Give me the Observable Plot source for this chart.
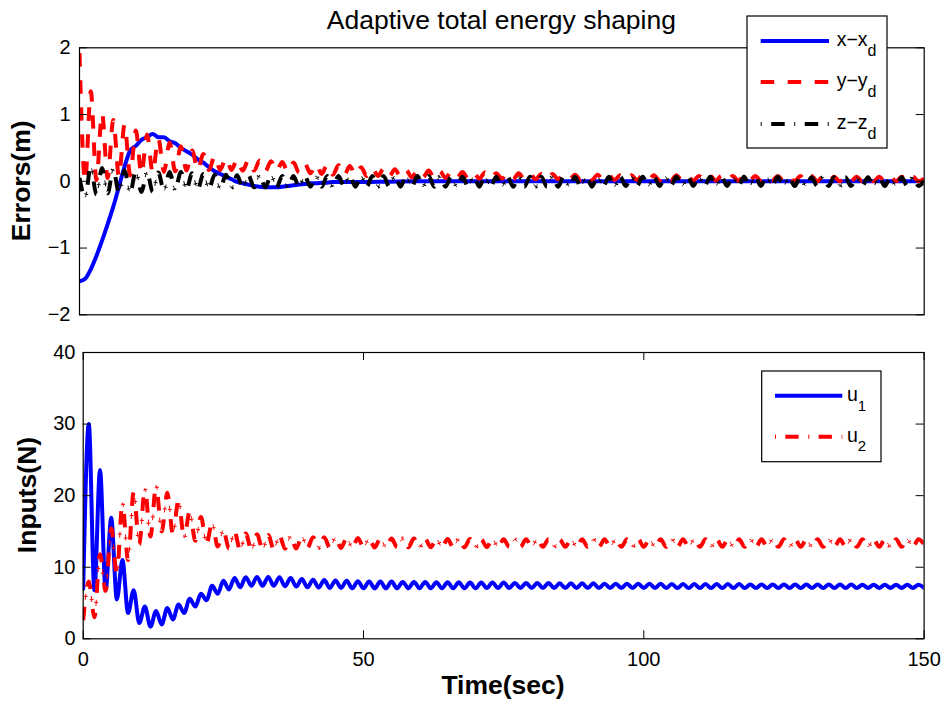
<!DOCTYPE html>
<html>
<head>
<meta charset="utf-8">
<script src="https://cdn.jsdelivr.net/npm/d3@7"></script>
<script src="https://cdn.jsdelivr.net/npm/@observablehq/plot@0.6"></script>
<style>
html,body{margin:0;padding:0;background:#fff;}
#chart{position:relative;width:946px;height:706px;background:#fff;overflow:hidden;font-family:"Liberation Sans",Arial,Helvetica,sans-serif;}
#chart > div{position:absolute;left:0;}
#overlay{position:absolute;left:0;top:0;}
</style>
</head>
<body>
<div id="chart"></div>
<script>
// ---------- axis ticks / labels ----------
const timeTicks = [0, 50, 100, 150];
const errorTicks = [-2, -1, 0, 1, 2];
const inputTicks = [0, 10, 20, 30, 40];
const tickText = d => (d < 0 ? "\u2212" + Math.abs(d) : String(d));

// ---------- x - x_d (smooth) ----------
const xErrTime = [0,1,2,3,4,5,6,7,8,9,10,11,12,13,14,15,16,17,18,19,20,21,22,23,24,25,26,27,28,29,30,
  31,32,33,34,35,36,37,38,39,40,41,42,43,44,45,50,55,60,70,80,90,100,110,120,130,140,150];
const xErr = [-1.50,-1.46,-1.32,-1.12,-0.89,-0.64,-0.38,-0.08,0.22,0.46,
  0.53,0.62,0.66,0.71,0.66,0.66,0.60,0.57,0.50,0.45,
  0.40,0.33,0.28,0.21,0.15,0.11,0.07,0.03,-0.01,-0.03,
  -0.05,-0.07,-0.08,-0.09,-0.09,-0.09,-0.08,-0.07,-0.06,-0.05,
  -0.04,-0.03,-0.03,-0.02,-0.02,-0.01,
  -0.01,-0.005,0,0,0,0,0,0,0,0,0,0];

// ---------- oscillating signals, read once per second (t = 0 ... 150 s) ----------
const sampleTime = d3.range(0, 151);
const yErr = [
  1.92,0.00,1.35,0.02,1.02,0.05,0.92,0.07,0.85,0.09,
  0.76,0.11,0.70,0.13,0.64,0.14,0.58,0.15,0.52,0.16,
  0.46,0.17,0.41,0.17,0.38,0.17,0.35,0.17,0.33,0.16,
  0.32,0.16,0.31,0.15,0.30,0.15,0.29,0.14,0.28,0.13,
  0.27,0.12,0.26,0.11,0.25,0.10,0.24,0.09,0.23,0.09,
  0.21,0.08,0.20,0.08,0.19,0.07,0.18,0.07,0.17,0.06,
  0.16,0.06,0.16,0.05,0.15,0.05,0.14,0.05,0.14,0.04,
  0.13,0.04,0.13,0.04,0.12,0.04,0.12,0.03,0.12,0.03,
  0.11,0.03,0.11,0.03,0.11,0.03,0.10,0.03,0.10,0.02,
  0.10,0.02,0.10,0.02,0.09,0.02,0.09,0.02,0.09,0.02,
  0.09,0.02,0.09,0.01,0.09,0.01,0.09,0.01,0.08,0.01,
  0.08,0.01,0.08,0.01,0.08,0.01,0.08,0.01,0.08,0.01,
  0.08,0.01,0.08,0.01,0.08,0.01,0.08,0.00,0.08,0.00,
  0.08,0.00,0.07,0.00,0.07,0.00,0.07,0.00,0.07,0.00,
  0.07,0.00,0.07,0.00,0.07,0.00,0.07,0.00,0.07,0.00,
  0.04];
const zErr = [
  0.05,-0.24,0.22,-0.20,0.20,-0.18,0.18,-0.17,0.16,-0.17,
  0.15,-0.16,0.14,-0.16,0.13,-0.14,0.14,-0.13,0.14,-0.12,
  0.12,-0.12,0.11,-0.11,0.10,-0.11,0.10,-0.10,0.09,-0.10,
  0.09,-0.09,0.09,-0.09,0.09,-0.09,0.08,-0.09,0.08,-0.09,
  0.08,-0.08,0.08,-0.08,0.08,-0.08,0.08,-0.08,0.08,-0.08,
  0.08,-0.08,0.08,-0.08,0.08,-0.08,0.08,-0.08,0.08,-0.08,
  0.08,-0.08,0.08,-0.08,0.07,-0.08,0.07,-0.08,0.07,-0.08,
  0.07,-0.08,0.07,-0.08,0.07,-0.08,0.07,-0.08,0.07,-0.08,
  0.07,-0.08,0.07,-0.08,0.07,-0.08,0.07,-0.08,0.07,-0.08,
  0.07,-0.08,0.07,-0.08,0.07,-0.08,0.07,-0.07,0.07,-0.07,
  0.07,-0.07,0.07,-0.07,0.07,-0.07,0.07,-0.07,0.07,-0.07,
  0.07,-0.07,0.07,-0.07,0.07,-0.07,0.07,-0.07,0.07,-0.07,
  0.07,-0.07,0.07,-0.07,0.07,-0.07,0.06,-0.07,0.06,-0.07,
  0.06,-0.07,0.06,-0.07,0.06,-0.07,0.06,-0.07,0.06,-0.07,
  0.06,-0.07,0.06,-0.07,0.06,-0.07,0.06,-0.07,0.06,-0.07,
  0.00];
const u1 = [
  7.0,30.0,6.8,23.6,6.8,16.9,5.5,11.0,3.6,6.8,
  2.2,4.5,1.7,3.9,2.0,4.3,2.7,4.8,3.6,5.6,
  4.5,6.3,5.4,7.4,6.3,8.1,6.9,8.5,7.2,8.6,
  7.4,8.65,7.4,8.65,7.4,8.6,7.35,8.5,7.3,8.35,
  7.2,8.25,7.15,8.2,7.1,8.15,7.1,8.1,7.05,8.05,
  7.05,8.0,7.05,8.0,7.05,8.0,7.05,7.95,7.05,7.95,
  7.05,7.95,7.05,7.9,7.05,7.9,7.05,7.9,7.05,7.85,
  7.05,7.85,7.1,7.85,7.1,7.85,7.1,7.8,7.1,7.8,
  7.1,7.8,7.1,7.8,7.1,7.75,7.1,7.75,7.1,7.75,
  7.1,7.75,7.1,7.7,7.1,7.7,7.1,7.7,7.1,7.7,
  7.1,7.7,7.1,7.7,7.1,7.65,7.1,7.65,7.1,7.65,
  7.1,7.65,7.1,7.65,7.1,7.65,7.1,7.65,7.1,7.6,
  7.1,7.6,7.1,7.6,7.1,7.6,7.1,7.6,7.1,7.6,
  7.1,7.6,7.1,7.6,7.1,7.6,7.1,7.6,7.1,7.55,
  7.1,7.55,7.1,7.55,7.1,7.55,7.1,7.55,7.1,7.55,
  7.1];
const u2 = [
  2.6,8.0,3.0,11.8,6.7,15.4,9.0,19.0,11.0,20.5,
  13.2,21.0,14.3,21.4,15.0,20.4,14.6,19.4,14.1,17.8,
  13.7,17.0,13.3,16.2,12.9,15.2,12.6,14.9,12.4,14.7,
  12.4,14.6,12.5,14.5,12.5,14.4,12.6,14.3,12.6,14.3,
  12.7,14.2,12.7,14.2,12.7,14.1,12.7,14.1,12.75,14.1,
  12.75,14.0,12.75,14.0,12.8,14.0,12.8,14.0,12.8,14.0,
  12.8,13.95,12.8,13.95,12.8,13.95,12.8,13.95,12.8,13.95,
  12.8,13.9,12.8,13.9,12.85,13.9,12.85,13.9,12.85,13.9,
  12.85,13.9,12.85,13.9,12.85,13.9,12.85,13.9,12.85,13.9,
  12.85,13.9,12.85,13.9,12.85,13.9,12.85,13.9,12.85,13.9,
  12.85,13.9,12.85,13.9,12.85,13.9,12.85,13.9,12.85,13.9,
  12.85,13.9,12.85,13.9,12.85,13.9,12.85,13.9,12.85,13.9,
  12.85,13.9,12.85,13.9,12.85,13.9,12.85,13.9,12.85,13.9,
  12.85,13.9,12.85,13.9,12.85,13.9,12.85,13.9,12.85,13.9,
  12.85,13.9,12.85,13.9,12.85,13.9,12.85,13.9,12.85,13.9,
  13.2];

// ---------- build ----------
(function () {
const rows = (ts, vs) => ts.map((t, i) => ({t, v: vs[i]}));
const FONT = "'Liberation Sans', Arial, Helvetica, sans-serif";
const W = 946;
const svgStyle = {fontFamily: FONT, fontSize: "20px", color: "#000", background: "transparent", overflow: "visible"};
const BLUE = "#0000ff", RED = "#ff0000", BLACK = "#000000";

const topM = {h: 330, l: 79, r: 22.3, t: 47.3, b: 15.7};
const topIW = W - topM.l - topM.r;

const topPlot = Plot.plot({
  width: W, height: topM.h,
  marginLeft: topM.l, marginRight: topM.r, marginTop: topM.t, marginBottom: topM.b,
  style: svgStyle,
  x: {domain: [0, 150], axis: null},
  y: {domain: [-2, 2]},
  marks: [
    Plot.line(rows(xErrTime, xErr), {x: "t", y: "v", curve: "monotone-x", stroke: BLUE, strokeWidth: 4, clip: true}),
    Plot.line(rows(sampleTime, yErr), {x: "t", y: "v", curve: "monotone-x", stroke: RED, strokeWidth: 4,
      strokeDasharray: "13.5,13.5", strokeLinecap: "butt", clip: true}),
    Plot.line(rows(sampleTime, zErr), {x: "t", y: "v", curve: "monotone-x", stroke: BLACK, strokeWidth: 4,
      strokeDasharray: "13.5,10,1,9", strokeLinecap: "butt", clip: true}),
    Plot.line(rows(sampleTime, zErr), {x: "t", y: "v", curve: "monotone-x", stroke: BLACK, strokeWidth: 1,
      strokeDasharray: "0,20.5,6,7", strokeLinecap: "butt", clip: true}),
    Plot.frame({stroke: BLACK, strokeWidth: 1.2}),
    Plot.tickY(errorTicks, {y: d => d, stroke: BLACK, insetRight: topIW - 8}),
    Plot.tickY(errorTicks, {y: d => d, stroke: BLACK, insetLeft: topIW - 8}),
    Plot.axisY({ticks: errorTicks, tickSize: 0, tickPadding: 9, tickFormat: tickText, fontSize: 20, label: null})
  ]
});

const botM = {h: 376, l: 82.7, r: 22.4, t: 22, b: 67.7};
const botIW = W - botM.l - botM.r;
const botIH = botM.h - botM.t - botM.b;

const botPlot = Plot.plot({
  width: W, height: botM.h,
  marginLeft: botM.l, marginRight: botM.r, marginTop: botM.t, marginBottom: botM.b,
  style: svgStyle,
  x: {domain: [0, 150]},
  y: {domain: [0, 40]},
  marks: [
    Plot.line(rows(sampleTime, u1), {x: "t", y: "v", curve: "monotone-x", stroke: BLUE, strokeWidth: 4, clip: true}),
    Plot.line(rows(sampleTime, u2), {x: "t", y: "v", curve: "monotone-x", stroke: RED, strokeWidth: 4,
      strokeDasharray: "13.5,10,1,9", strokeLinecap: "butt", clip: true}),
    Plot.line(rows(sampleTime, u2), {x: "t", y: "v", curve: "monotone-x", stroke: RED, strokeWidth: 1,
      strokeDasharray: "0,20.5,6,7", strokeLinecap: "butt", clip: true}),
    Plot.frame({stroke: BLACK, strokeWidth: 1.2}),
    Plot.tickY(inputTicks, {y: d => d, stroke: BLACK, insetRight: botIW - 8}),
    Plot.tickY(inputTicks, {y: d => d, stroke: BLACK, insetLeft: botIW - 8}),
    Plot.tickX(timeTicks, {x: d => d, stroke: BLACK, insetBottom: botIH - 8}),
    Plot.tickX(timeTicks, {x: d => d, stroke: BLACK, insetTop: botIH - 8}),
    Plot.axisY({ticks: inputTicks, tickSize: 0, tickPadding: 7.7, tickFormat: tickText, fontSize: 20, label: null}),
    Plot.axisX({ticks: timeTicks, tickSize: 0, tickPadding: 13, tickFormat: tickText, fontSize: 20, label: null})
  ]
});

const chart = document.getElementById("chart");
const d1 = document.createElement("div"); d1.style.top = "0px"; d1.appendChild(topPlot); chart.appendChild(d1);
const d2 = document.createElement("div"); d2.style.top = "330px"; d2.appendChild(botPlot); chart.appendChild(d2);

// ---------- titles, axis labels, legends ----------
const overlay = `
<svg id="overlay" width="946" height="706" xmlns="http://www.w3.org/2000/svg" font-family="${FONT}" fill="#000">
  <text x="501.4" y="29.3" text-anchor="middle" font-size="26.5">Adaptive total energy shaping</text>
  <text transform="translate(30,180.8) rotate(-90)" text-anchor="middle" font-size="26.5" font-weight="bold">Errors(m)</text>
  <text transform="translate(35.5,495) rotate(-90)" text-anchor="middle" font-size="26.5" font-weight="bold">Inputs(N)</text>
  <text x="503" y="694" text-anchor="middle" font-size="26.5" font-weight="bold">Time(sec)</text>

  <rect x="747" y="16" width="140" height="132" fill="#fff" stroke="#000" stroke-width="1.2"/>
  <line x1="760.7" x2="829" y1="41" y2="41" stroke="${BLUE}" stroke-width="4"/>
  <line x1="760.7" x2="829" y1="82" y2="82" stroke="${RED}" stroke-width="4" stroke-dasharray="13.5,13.5"/>
  <line x1="760.7" x2="829" y1="124" y2="124" stroke="${BLACK}" stroke-width="4" stroke-dasharray="1,9.5,13.5,9.5"/>
  <text x="836.7" y="45.5" font-size="19.5">x\u2212x<tspan dy="10" font-size="16">d</tspan></text>
  <text x="836.7" y="86.5" font-size="19.5">y\u2212y<tspan dy="10" font-size="16">d</tspan></text>
  <text x="836.7" y="128.5" font-size="19.5">z\u2212z<tspan dy="10" font-size="16">d</tspan></text>

  <rect x="761.7" y="371" width="119.3" height="90.7" fill="#fff" stroke="#000" stroke-width="1.2"/>
  <line x1="775" x2="842.3" y1="395.7" y2="395.7" stroke="${BLUE}" stroke-width="4"/>
  <line x1="775" x2="842.3" y1="436.7" y2="436.7" stroke="${RED}" stroke-width="4" stroke-dasharray="1,9.3,13.3,9.7"/>
  <text x="847" y="401" font-size="19.5">u<tspan dy="9.5" font-size="15">1</tspan></text>
  <text x="847" y="441.5" font-size="19.5">u<tspan dy="9.5" font-size="15">2</tspan></text>
</svg>`;
chart.insertAdjacentHTML("beforeend", overlay);
})();
</script>
</body>
</html>
